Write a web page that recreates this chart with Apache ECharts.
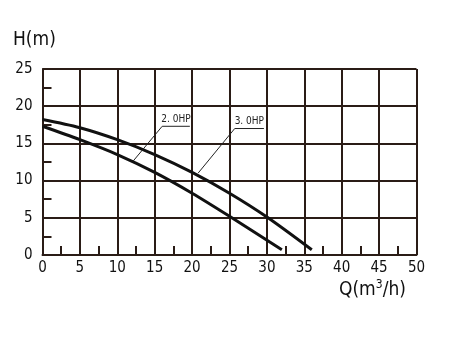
<!DOCTYPE html>
<html><head><meta charset="utf-8">
<script src="https://cdn.jsdelivr.net/npm/echarts@6/dist/echarts.min.js"></script>
<style>html,body{margin:0;padding:0;background:#fff}#c{width:450px;height:338px}</style>
</head><body><div id="c"></div>
<script>
const xTicks = [0,5,10,15,20,25,30,35,40,45,50];
const yTicks = [0,5,10,15,20,25];
const hp3Q = [0,5,10,15,20,25,30,36];
const hp3H = [18.2,17.1,15.5,13.5,11.1,8.3,5.1,0.7];
const hp2Q = [0,5,10,15,20,25,32];
const hp2H = [17.3,15.5,13.5,11.1,8.3,5.2,0.7];
const label2 = {text:'2. 0HP', leader:[[12.1,12.6],[16.0,17.3],[19.7,17.3]]};
const label3 = {text:'3. 0HP', leader:[[20.8,11.0],[25.7,17.0],[29.6,17.0]]};

const fam = '"DejaVu Sans Condensed","DejaVu Sans",sans-serif';
const gridColor = '#2a1c16';
const zip = (a,b)=>a.map((v,i)=>[v,b[i]]);
const chart = echarts.init(document.getElementById('c'));
const lab = {color:'#111',fontFamily:fam,fontSize:15};
chart.setOption({
  animation:false,
  grid:{left:42.5,right:33.5,top:69,bottom:83},
  xAxis:{type:'value',min:0,max:50,interval:5,
    axisLine:{lineStyle:{color:gridColor,width:2}},
    axisTick:{show:false,inside:true},
    minorTick:{show:true,splitNumber:2,length:9,lineStyle:{color:gridColor,width:2}},
    splitLine:{show:true,lineStyle:{color:gridColor,width:2}},
    axisLabel:Object.assign({margin:6},lab)},
  yAxis:{type:'value',min:0,max:25,interval:5,
    axisLine:{show:true,lineStyle:{color:gridColor,width:2}},
    axisTick:{show:false,inside:true},
    minorTick:{show:true,splitNumber:2,length:9,lineStyle:{color:gridColor,width:2}},
    splitLine:{show:true,lineStyle:{color:gridColor,width:2}},
    axisLabel:Object.assign({margin:10},lab)},
  graphic:[
    {type:'text',left:13,top:31,style:{text:'H(m)',font:'19px '+fam,fill:'#111'}},
    {type:'text',left:339,top:279,style:{rich:{a:{fontSize:19,fontFamily:fam,fill:'#111'},s:{fontSize:12,fontFamily:fam,fill:'#111',verticalAlign:'top',padding:[0,0,10,0]}},text:'{a|Q(m}{s|3}{a|/h)}'}}
  ],
  series:[
    {type:'line',data:zip(hp3Q,hp3H),smooth:0.3,symbol:'none',lineStyle:{color:'#111',width:3}},
    {type:'line',data:zip(hp2Q,hp2H),smooth:0.3,symbol:'none',lineStyle:{color:'#111',width:3}},
    ...[label2,label3].map(l=>({type:'line',data:l.leader,symbol:'none',lineStyle:{color:'#222',width:1},
      markPoint:{symbol:'rect',symbolSize:0.1,data:[{coord:[(l.leader[1][0]+l.leader[2][0])/2,l.leader[1][1]],
        label:{show:true,formatter:l.text,position:'top',distance:2,color:'#222',fontFamily:fam,fontSize:10}}]}}))
  ]
});
</script></body></html>
